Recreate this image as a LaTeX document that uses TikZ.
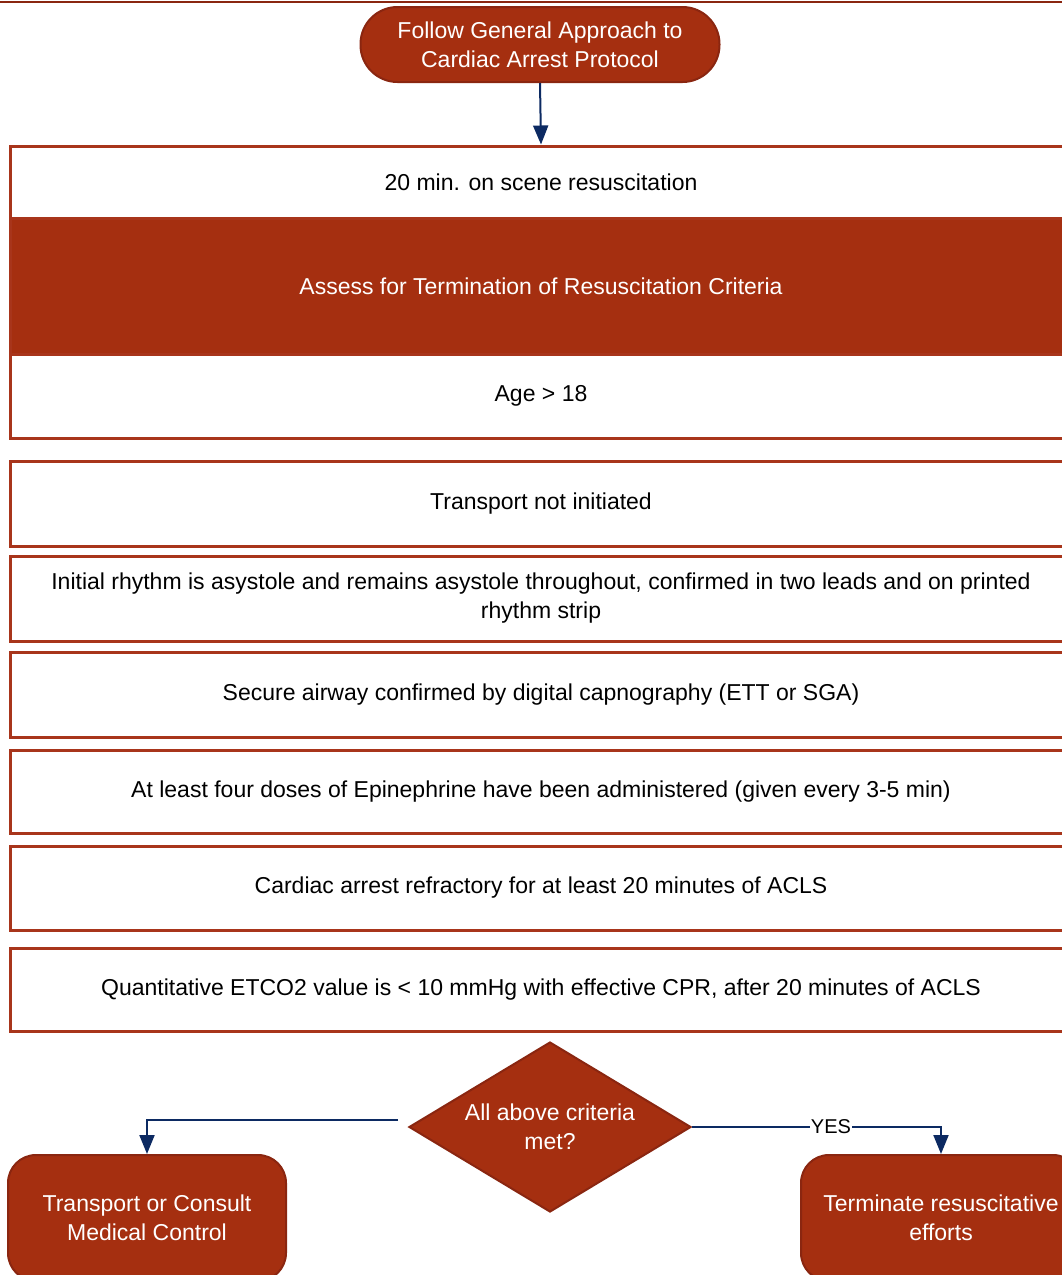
\documentclass[tikz,border=0pt]{standalone}
\usepackage{fontspec}
\setmainfont{Liberation Sans}
\usepackage{xcolor}
\usetikzlibrary{arrows.meta,positioning,shapes.geometric}
\definecolor{rust}{HTML}{A52F10}
\definecolor{rustdark}{HTML}{8A2610}
\definecolor{rustline}{HTML}{A8351B}
\definecolor{navy}{HTML}{0C2A62}

\begin{document}
\begin{tikzpicture}[x=1pt,y=-1pt,
  font=\fontsize{23}{29}\selectfont, >={Triangle[length=19pt,width=15pt]},
  critbox/.style={draw=rustline,line width=3pt,fill=white,minimum width=1062pt,align=center,inner sep=0pt},
  headbox/.style={critbox,fill=rust,text=white},
  termbox/.style={draw=rustdark,line width=2pt,fill=rust,text=white,rounded corners=28pt,align=center},
  decis/.style={diamond,draw=rustdark,line width=2pt,fill=rust,text=white,
    minimum width=282pt,minimum height=170pt,inner sep=0pt},
  flow/.style={->,navy,line width=2pt}]
  \useasboundingbox (0,0) rectangle (1062,1275);
  \draw[rustdark,line width=2pt] (0,1.5) -- (1062,1.5);
  \node[termbox,minimum width=359pt,minimum height=75pt,rounded corners=37pt] (start) at (540,44.5)
    {Follow General Approach to\\Cardiac Arrest Protocol};
  % criteria
  \node[critbox,minimum height=72pt] (scene) at (541,182) {20 min. on scene resuscitation};
  \node[headbox,minimum height=136pt] (assess) at (541,286) {Assess for Termination of Resuscitation Criteria};
  \node[critbox,minimum height=84pt] (age) at (541,396) {Age > 18};
  \node[critbox,minimum height=85pt] (transp) at (541,503.5) {Transport not initiated};
  \node[critbox,minimum height=85pt] (rhythm) at (541,598.5)
    {Initial rhythm is asystole and remains asystole throughout, confirmed in two leads and on printed\\rhythm strip};
  \node[critbox,minimum height=85pt] (airway) at (541,694.5) {Secure airway confirmed by digital capnography (ETT or SGA)};
  \node[critbox,minimum height=83pt] (epi) at (541,791.5) {At least four doses of Epinephrine have been administered (given every 3-5 min)};
  \node[critbox,minimum height=84pt] (refract) at (541,888) {Cardiac arrest refractory for at least 20 minutes of ACLS};
  \node[critbox,minimum height=83pt] (etco) at (541,989.5) {Quantitative ETCO2 value is < 10 mmHg with effective CPR, after 20 minutes of ACLS};
  % decision
  \node[decis,label={[text=white,align=center]center:All above criteria\\met?}] (met) at (550,1127) {};
  \node[termbox,minimum width=278pt,minimum height=126pt] (consult) at (147,1218)
    {Transport or Consult\\Medical Control};
  \node[termbox,minimum width=280pt,minimum height=126pt] (stop) at (941,1218)
    {Terminate resuscitative\\efforts};
  \coordinate (noout) at (398,1120);
  \draw[flow] (start.south) -- (scene.north);
  \draw[flow] (noout) -| (consult.north);
  \draw[flow] (met.east) -| node[pos=0.5,fill=white,inner sep=1pt,text=black,font=\fontsize{20}{24}\selectfont,xshift=-110pt]{YES} (stop.north);
\end{tikzpicture}
\end{document}
